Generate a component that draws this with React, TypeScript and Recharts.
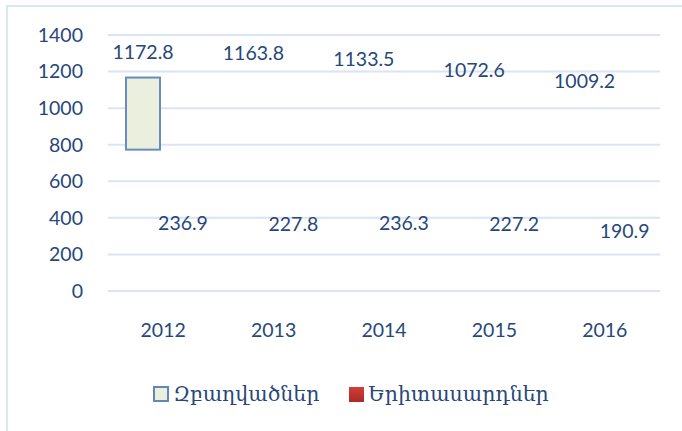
import { BarChart, Bar, XAxis, YAxis, CartesianGrid, Legend, LabelList } from 'recharts';

const years = ['2012', '2013', '2014', '2015', '2016'];
const employed = [1172.8, 1163.8, 1133.5, 1072.6, 1009.2];
const youth = [236.9, 227.8, 236.3, 227.2, 190.9];
// lower edge of the part of each bar that actually shows in the picture (null = not shown)
const shownFrom = [773, null, null, null, null];
const yTicks = [0, 200, 400, 600, 800, 1000, 1200, 1400];

const names = { employed: 'Զբաղվածներ', youth: 'Երիտասարդներ' };

const data = years.map((year, i) => ({
    year,
    employed: employed[i],
    youth: youth[i],
    from: shownFrom[i],
}));

const textColor = '#27477a';
const numFont = 'Lato, "Open Sans", sans-serif';

const PartialBar = (props: any) => {
    const { x, y, width, height, payload } = props;
    if (payload.from == null) return null;
    const cut = y + height * (1 - payload.from / payload.employed);
    return (
        <rect x={x + 1} y={y + 1} width={width - 2} height={cut - y - 1}
            fill="#ebf0de" stroke="#6a8bbd" strokeWidth={2} />
    );
}

const LegendBox = () => (
    <div style={{ display: 'flex', justifyContent: 'center', alignItems: 'center', fontFamily: '"DejaVu Serif", serif', fontSize: 20.5, color: textColor, paddingLeft: 20 }}>
        <span style={{ width: 12, height: 12, background: '#ebf0de', border: '2px solid #5f86bd', marginRight: 4 }} />
        <span style={{ marginRight: 30 }}>{names.employed}</span>
        <span style={{ width: 15, height: 15, background: 'linear-gradient(#d53d38, #a82b28)', marginRight: 4 }} />
        <span>{names.youth}</span>
    </div>
)

export default function App() {
    return (
        <div style={{ position: 'fixed', left: 0, top: 0, width: 682, height: 431, background: '#fff' }}>
            <div style={{ position: 'absolute', left: 6, top: 5, width: 700, height: 450, border: '2px solid #dbe6f4' }} />
            <BarChart width={682} height={431} data={data}
                margin={{ top: 35, right: 22, left: 0, bottom: 0 }}
                barCategoryGap={17} barGap={4}
            >
                <CartesianGrid vertical={false} stroke="#d9e4f4" strokeWidth={2} />
                <XAxis dataKey="year" axisLine={false} tickLine={false} height={140}
                    tickSize={0} tickMargin={32}
                    tick={{ fill: textColor, fontSize: 19.5, fontFamily: numFont }} />
                <YAxis domain={[0, 1400]} ticks={yTicks} axisLine={false} tickLine={false} width={108}
                    tickSize={0} tickMargin={25} interval={0}
                    tick={{ fill: textColor, fontSize: 19.5, fontFamily: numFont }} />
                <Bar dataKey="employed" name={names.employed} shape={PartialBar} isAnimationActive={false}>
                    <LabelList dataKey="employed" position="top" offset={18}
                        style={{ fill: textColor, fontSize: 19.5, fontFamily: numFont }} />
                </Bar>
                <Bar dataKey="youth" name={names.youth} fill="none" isAnimationActive={false}>
                    <LabelList dataKey="youth" position="top" offset={18}
                        style={{ fill: textColor, fontSize: 19.5, fontFamily: numFont }} />
                </Bar>
                <Legend layout="horizontal" verticalAlign="middle" align="center" content={LegendBox}
                    wrapperStyle={{ position: 'absolute', top: 382, left: 0, width: 682 }} />
            </BarChart>
        </div>
    )
}
